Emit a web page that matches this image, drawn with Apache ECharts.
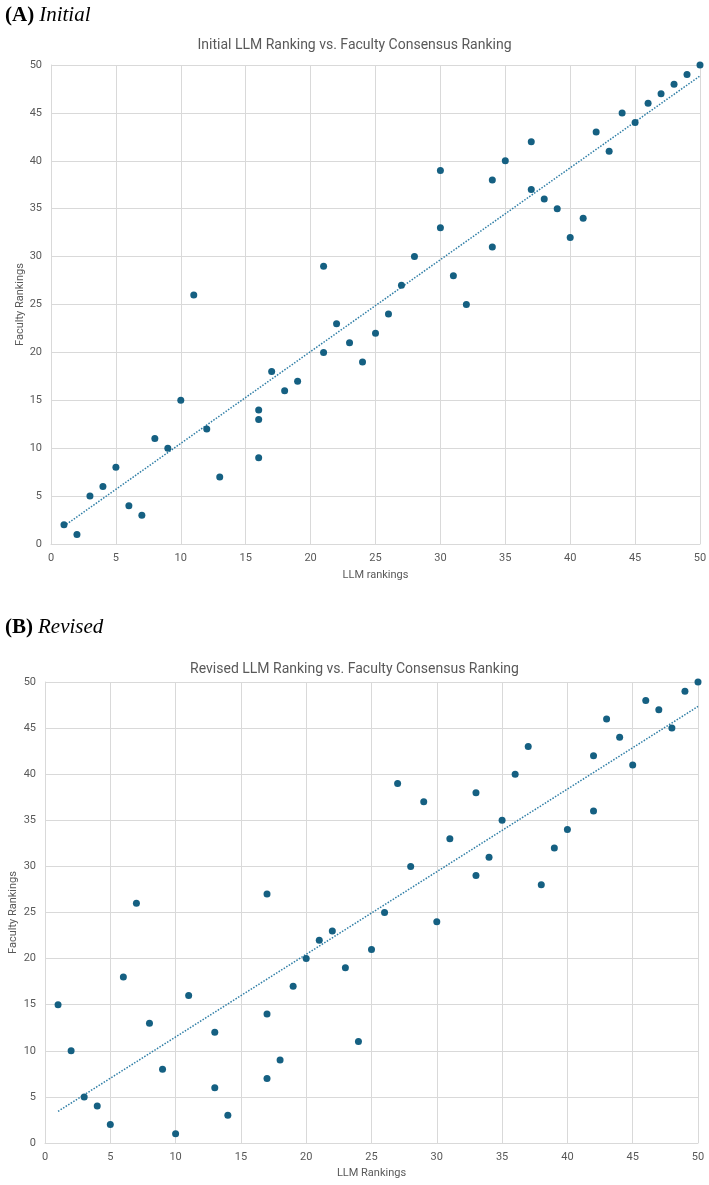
<!DOCTYPE html>
<html>
<head>
<meta charset="utf-8">
<script src="https://cdn.jsdelivr.net/npm/echarts@6/dist/echarts.min.js"></script>
<style>html,body{margin:0;padding:0;background:#fff}#c{width:709px;height:1185px}</style>
</head>
<body>
<div id="c"></div>
<script>
// Panel A: Initial LLM ranking vs faculty ranking
const initialLLM = [1,2,3,4,5,6,7,8,9,10,11,12,13,16,16,16,17,18,19,21,21,22,23,24,25,26,27,28,30,30,31,32,34,34,35,37,37,38,39,40,41,42,43,44,45,46,47,48,49,50];
const initialFaculty = [2,1,5,6,8,4,3,11,10,15,26,12,7,14,13,9,18,16,17,20,29,23,21,19,22,24,27,30,39,33,28,25,38,31,40,42,37,36,35,32,34,43,41,45,44,46,47,48,49,50];
// Panel B: Revised LLM ranking vs faculty ranking
const revisedLLM = [1,2,3,4,5,6,7,8,9,10,11,13,13,14,17,17,17,18,19,20,21,22,23,24,25,26,27,28,29,30,31,33,33,34,35,36,37,38,39,40,42,42,43,44,45,46,47,48,49,50];
const revisedFaculty = [15,10,5,4,2,18,26,13,8,1,16,12,6,3,27,14,7,9,17,20,22,23,19,11,21,25,39,30,37,24,33,38,29,31,35,40,43,28,32,34,42,36,46,44,41,48,47,45,49,50];
const axisTicks = [0,5,10,15,20,25,30,35,40,45,50];

function pairs(xs, ys){ return xs.map((x,i)=>[x, ys[i]]); }
function trend(xs, ys){
  const n = xs.length;
  const mx = xs.reduce((a,b)=>a+b,0)/n, my = ys.reduce((a,b)=>a+b,0)/n;
  let sxy=0, sxx=0;
  for(let i=0;i<n;i++){ sxy+=(xs[i]-mx)*(ys[i]-my); sxx+=(xs[i]-mx)*(xs[i]-mx); }
  const b = sxy/sxx, a = my - b*mx;
  const x0 = Math.min(...xs), x1 = Math.max(...xs);
  return [[x0, a+b*x0],[x1, a+b*x1]];
}

const FONT = 'Roboto, "Noto Sans", sans-serif';
const GRAY = '#595959';
const GRID = '#d9d9d9';
const DOT = '#156082';

function xAx(idx, name, gap){
  return {gridIndex: idx, type:'value', min:axisTicks[0], max:axisTicks[axisTicks.length-1], interval:5,
    name: name, nameLocation:'middle', nameGap: gap, nameMoveOverlap:false,
    nameTextStyle:{color:GRAY, fontSize:11, fontFamily:FONT},
    axisLine:{show:true, lineStyle:{color:GRID, width:1}}, axisTick:{show:false},
    axisLabel:{color:GRAY, fontSize:11, fontFamily:FONT, margin:9},
    splitLine:{show:true, lineStyle:{color:GRID, width:1}}};
}
function yAx(idx, name, gap){
  return {gridIndex: idx, type:'value', min:axisTicks[0], max:axisTicks[axisTicks.length-1], interval:5,
    name: name, nameLocation:'middle', nameGap: gap, nameRotate:90, nameMoveOverlap:false,
    nameTextStyle:{color:GRAY, fontSize:11, fontFamily:FONT},
    axisLine:{show:true, lineStyle:{color:GRID, width:1}}, axisTick:{show:false},
    axisLabel:{color:GRAY, fontSize:11, fontFamily:FONT, margin:9},
    splitLine:{show:true, lineStyle:{color:GRID, width:1}}};
}

const panelRich = {
  b:{fontFamily:'"Liberation Serif", serif', fontWeight:'bold', fontStyle:'normal', fontSize:21, color:'#000'},
  i:{fontFamily:'"Liberation Serif", serif', fontWeight:'normal', fontStyle:'italic', fontSize:21, color:'#000'}
};

const chart = echarts.init(document.getElementById('c'), null, {renderer:'canvas'});
chart.setOption({
  animation:false,
  backgroundColor:'#fff',
  title:[
    {text:'{b|(A)} {i|Initial}', left:0, top:0, textStyle:{fontWeight:'normal', rich:panelRich}},
    {text:'Initial LLM Ranking vs. Faculty Consensus Ranking', left:'center', top:33,
      textStyle:{fontFamily:FONT, fontSize:14, fontWeight:'normal', color:GRAY}},
    {text:'{b|(B)} {i|Revised}', left:0, top:612, textStyle:{fontWeight:'normal', rich:panelRich}},
    {text:'Revised LLM Ranking vs. Faculty Consensus Ranking', left:'center', top:657,
      textStyle:{fontFamily:FONT, fontSize:14, fontWeight:'normal', color:GRAY}}
  ],
  grid:[
    {left:51, top:65, width:649, height:479, outerBoundsMode:'none', containLabel:false},
    {left:45, top:682, width:653, height:461, outerBoundsMode:'none', containLabel:false}
  ],
  xAxis:[xAx(0,'LLM rankings',26), xAx(1,'LLM Rankings',25)],
  yAxis:[yAx(0,'Faculty Rankings',25), yAx(1,'Faculty Rankings',26)],
  series:[
    {type:'line', xAxisIndex:0, yAxisIndex:0, data:trend(initialLLM, initialFaculty), symbol:'none',
      lineStyle:{color:'#2f7ea6', width:1.5, type:[1.5,1.5]}, z:1},
    {type:'scatter', xAxisIndex:0, yAxisIndex:0, data:pairs(initialLLM, initialFaculty), symbolSize:7,
      itemStyle:{color:DOT, opacity:1}, z:2},
    {type:'line', xAxisIndex:1, yAxisIndex:1, data:trend(revisedLLM, revisedFaculty), symbol:'none',
      lineStyle:{color:'#2f7ea6', width:1.5, type:[1.5,1.5]}, z:1},
    {type:'scatter', xAxisIndex:1, yAxisIndex:1, data:pairs(revisedLLM, revisedFaculty), symbolSize:7,
      itemStyle:{color:DOT, opacity:1}, z:2}
  ]
});
</script>
</body>
</html>
